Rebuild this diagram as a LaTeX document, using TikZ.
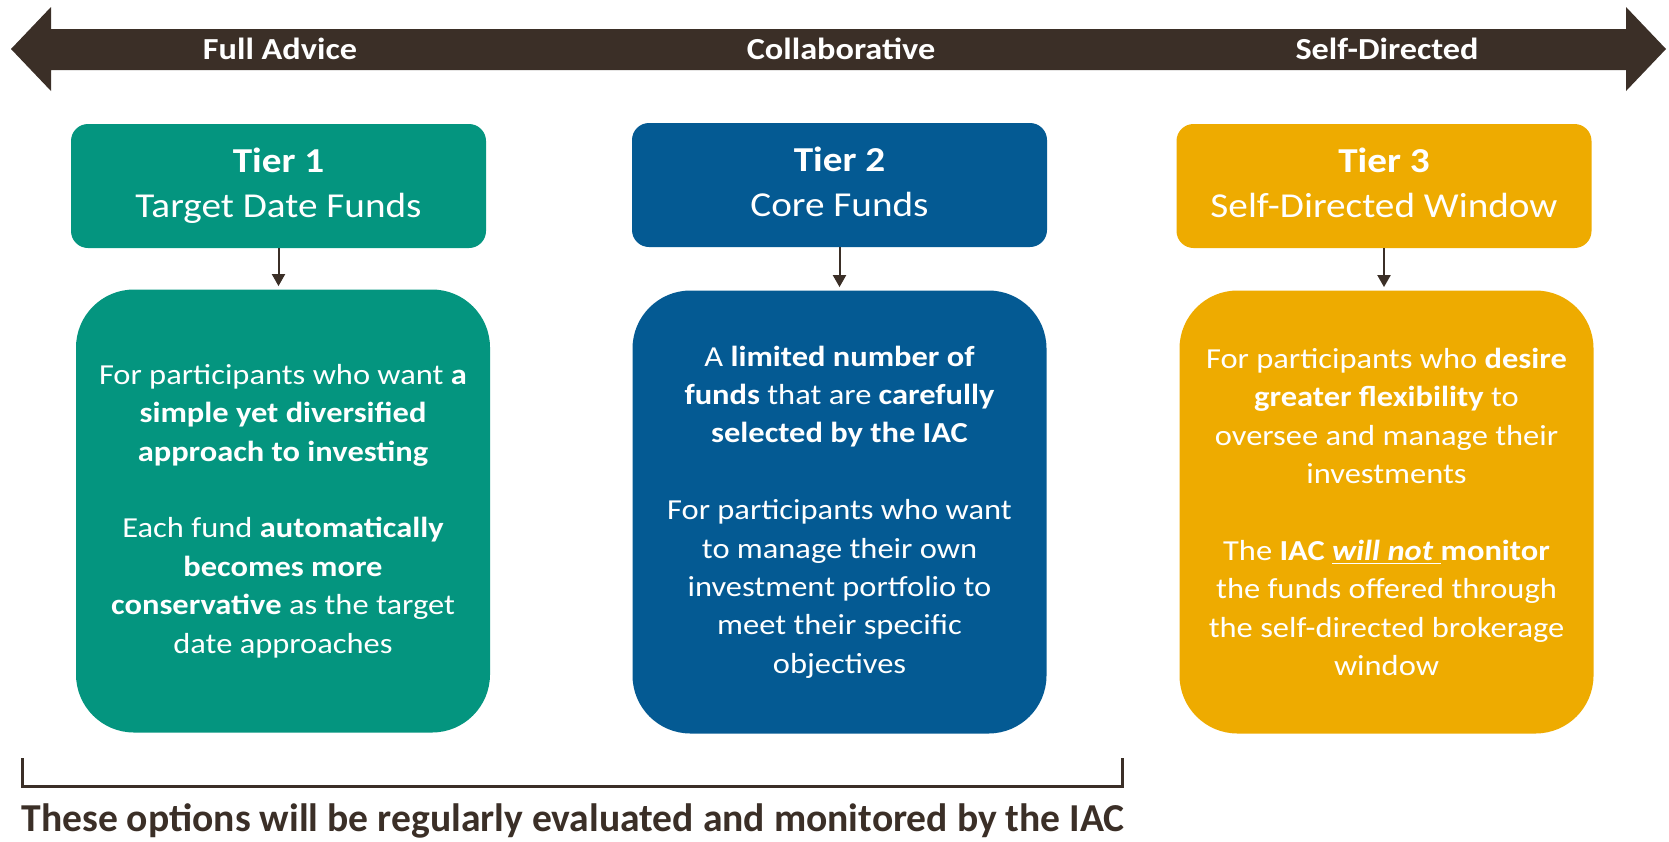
\documentclass[tikz,border=0pt]{standalone}
\usepackage{fontspec}
\setmainfont{Carlito}[FakeStretch=1.12]
\newfontfamily\notefont{Carlito}
\usetikzlibrary{arrows.meta}
\definecolor{darkbrown}{HTML}{3B2F27}
\definecolor{tiergreen}{HTML}{04957F}
\definecolor{tierblue}{HTML}{045A93}
\definecolor{tiergold}{HTML}{EEAB00}
\begin{document}
\begin{tikzpicture}[x=0.5pt, y=-0.5pt, head style/.style={rectangle, rounded corners=8.5pt, minimum width=207.5pt, minimum height=62pt, inner sep=0pt, text=white, align=center, font=\fontsize{17.5}{22.5}\selectfont}, body style/.style={rectangle, rounded corners=29pt, minimum width=207pt, minimum height=221.5pt, inner sep=0pt, text=white, align=center, font=\fontsize{14.5}{19.2}\selectfont}, scale label/.style={text=white, font=\bfseries\fontsize{15.3}{18}\selectfont}, link/.style={darkbrown, line width=1pt, -{Triangle[width=6.5pt, length=6pt]}}]
	\useasboundingbox (0,0) rectangle (1669,841);
	\fill[darkbrown] (11,49) -- (51,7) -- (51,29) -- (1626,29) -- (1626,7) -- (1666,49) -- (1626,91) -- (1626,70) -- (51,70) -- (51,91) -- cycle;
	\node[scale label] (L1) at (280,49) {Full Advice};
	\node[scale label] (L2) at (841,49) {Collaborative};
	\node[scale label] (L3) at (1387,49) {Self-Directed};
	\node[head style, fill=tiergreen] (H1) at (278.5,186) {\textbf{Tier 1}\\Target Date Funds};
	\node[head style, fill=tierblue] (H2) at (839.5,185) {\textbf{Tier 2}\\Core Funds\vphantom{g}};
	\node[head style, fill=tiergold] (H3) at (1384,186) {\textbf{Tier 3}\\Self-Directed Window\vphantom{g}};
	\node[body style, fill=tiergreen] (B1) at (283,511) {For participants who want \textbf{a}\\\textbf{simple yet diversified}\\\textbf{approach to investing}\\[19.2pt]Each fund \textbf{automatically}\\\textbf{becomes more}\\\textbf{conservative} as the target\\date approaches};
	\node[body style, fill=tierblue] (B2) at (839.5,512) {A \textbf{limited number of}\\\textbf{funds} that are \textbf{carefully}\\\textbf{selected by the IAC}\\[19.2pt]For participants who want\\to manage their own\\investment portfolio to\\meet their specific\\objectives};
	\node[body style, fill=tiergold] (B3) at (1386.5,512) {For participants who \textbf{desire}\\\textbf{greater flexibility} to\\oversee and manage their\\investments\\[19.2pt]The \textbf{IAC \underline{\textit{will not}\ }monitor}\\the funds offered through\\the self-directed brokerage\\window};
	\draw[link] (H1.south) -- ([yshift=1.5pt]H1.south |- B1.north);
	\draw[link] (H2.south) -- ([yshift=1.5pt]H2.south |- B2.north);
	\draw[link] (H3.south) -- ([yshift=1.5pt]H3.south |- B3.north);
	\draw[darkbrown, line width=1.5pt] (22,758) -- (22,786) -- (1122,786) -- (1122,758);
	\node[text=darkbrown, font=\notefont\bfseries\fontsize{19.8}{24}\selectfont] (note) at (573,821) {These options will be regularly evaluated and monitored by the IAC};
\end{tikzpicture}
\end{document}
